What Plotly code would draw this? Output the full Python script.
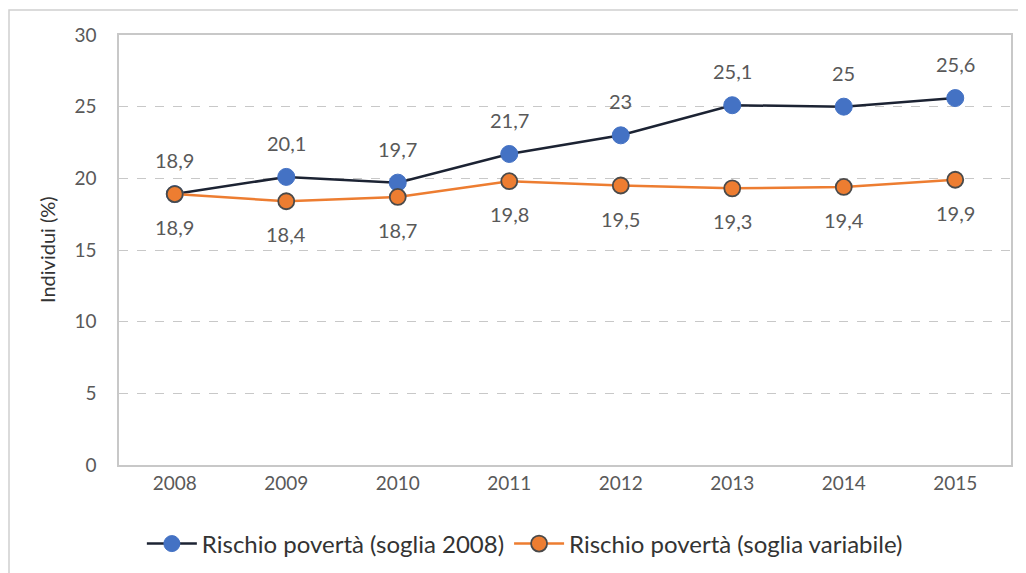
import plotly.graph_objects as go

years = ["2008", "2009", "2010", "2011", "2012", "2013", "2014", "2015"]
soglia_2008 = [18.9, 20.1, 19.7, 21.7, 23.0, 25.1, 25.0, 25.6]
soglia_variabile = [18.9, 18.4, 18.7, 19.8, 19.5, 19.3, 19.4, 19.9]
y_ticks = [0, 5, 10, 15, 20, 25, 30]
name_a = "Rischio povertà (soglia 2008)"
name_b = "Rischio povertà (soglia variabile)"


def fmt(v):
    s = ("%.1f" % v).rstrip("0").rstrip(".")
    return s.replace(".", ",")


FONT = "Lato, 'Open Sans', sans-serif"
GREY = "#595959"

fig = go.Figure()
fig.add_trace(go.Scatter(
    x=years, y=soglia_2008, name=name_a, mode="lines+markers",
    line=dict(color="#1c2333", width=2.5),
    marker=dict(color="#4472C4", size=17, line=dict(color="#4472C4", width=1)),
))
fig.add_trace(go.Scatter(
    x=years, y=soglia_variabile, name=name_b, mode="lines+markers",
    line=dict(color="#ED7D31", width=2.5),
    marker=dict(color="#ED7D31", size=16, line=dict(color="#4a4a4a", width=1.8)),
))

annotations = []
for i, v in enumerate(soglia_2008):
    annotations.append(dict(x=i, y=v, xref="x", yref="y", text=fmt(v), showarrow=False,
                            yshift=34, font=dict(family=FONT, size=20, color=GREY)))
for i, v in enumerate(soglia_variabile):
    annotations.append(dict(x=i, y=v, xref="x", yref="y", text=fmt(v), showarrow=False,
                            yshift=-33, font=dict(family=FONT, size=20, color=GREY)))
annotations.append(dict(x=(47 - 119) / 892, y=0.5, xref="paper", yref="paper",
                        xanchor="center", yanchor="middle",
                        text="Individui (%)", textangle=-90, showarrow=False,
                        font=dict(family=FONT, size=20, color="#333333")))

fig.update_layout(
    width=1018, height=565,
    margin=dict(l=111, r=15, t=27, b=108, autoexpand=False),
    paper_bgcolor="white", plot_bgcolor="white",
    font=dict(family=FONT, size=18, color=GREY),
    showlegend=True,
    legend=dict(orientation="h", x=0.455, xanchor="center", y=(465 - 544) / 430, yanchor="middle",
                font=dict(family=FONT, size=24, color="#333333"),
                itemwidth=50, tracegroupgap=0),
    xaxis=dict(type="category", range=[-0.5, 7.5], showgrid=False, automargin=False,
               showline=True, linecolor="#c8c8c8", linewidth=1.5, mirror=True,
               ticks="", ticklen=0, tickfont=dict(size=19, color=GREY)),
    yaxis=dict(range=[0, 30], tickvals=y_ticks, showgrid=True, automargin=False,
               gridcolor="#c8c8c8", griddash="dash", gridwidth=1,
               showline=True, linecolor="#c8c8c8", linewidth=1.5, mirror=True,
               zeroline=False, ticks="", ticklabelstandoff=17,
               tickfont=dict(size=19, color=GREY)),
    annotations=annotations,
)

# outer chart frame of the screenshot
fig.add_shape(type="rect", xref="paper", yref="paper",
              x0=(9 - 119) / 892, x1=(1040 - 119) / 892,
              y0=(465 - 590) / 430, y1=(465 - 10) / 430,
              line=dict(color="#d0d0d0", width=1.5), fillcolor="rgba(0,0,0,0)", layer="below")

fig.write_html("out.html")
